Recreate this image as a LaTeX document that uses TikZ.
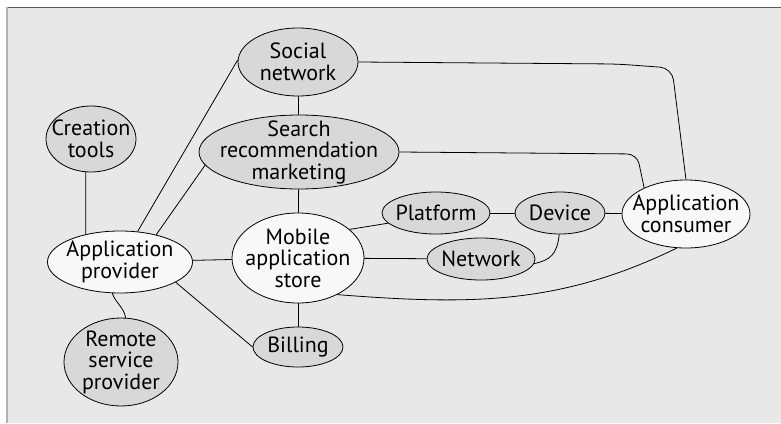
\documentclass[tikz,border=0pt]{standalone}
\usepackage{fontspec}
\setmainfont{PT Sans}
\usetikzlibrary{shapes.geometric}
\definecolor{panel}{HTML}{E8E8E8}
\definecolor{shade}{HTML}{D8D8D8}
\definecolor{light}{HTML}{F8F8F8}
\begin{document}
\begin{tikzpicture}[x=1pt,y=-1pt,
  every node/.style={font=\fontsize{22}{21.5}\selectfont, align=center, inner sep=0pt},
  % the ellipse keeps its given size; its text sits in a centred label
  bubble/.style={ellipse, draw=black, line width=0.8pt, fill=shade, label={center:#1}},
  lightbubble/.style={bubble=#1, fill=light},
  link/.style={draw=black, line width=0.8pt}]
\useasboundingbox (0,0) rectangle (781,423);
% panel and its frame
\fill[panel] (6,7) rectangle (781,423);
\draw[gray!70!black, line width=1.2pt] (6,7.5) -- (781,7.5);
\draw[gray!60, line width=2pt] (7,7) -- (7,423);

% nodes
\node[bubble={Social\\network}, minimum width=120, minimum height=68] (soc) at (298,62) {};
\node[bubble={Creation\\tools}, minimum width=90, minimum height=66] (crea) at (91,139) {};
\node[bubble={Search\\recommendation\\marketing}, minimum width=200, minimum height=74] (srch) at (299,152) {};
\node[lightbubble={Application\\provider}, minimum width=145, minimum height=62] (prov) at (120,262) {};
\node[lightbubble={Mobile\\application\\store}, minimum width=132, minimum height=90] (store) at (298,258) {};
\node[bubble={Remote\\service\\provider}, minimum width=114, minimum height=88] (rem) at (121,362) {};
\node[bubble={Billing}, minimum width=90, minimum height=40] (bill) at (298,347) {};
\node[bubble={Platform}, minimum width=108, minimum height=42] (plat) at (436,213) {};
\node[bubble={Device}, minimum width=90, minimum height=42] (dev) at (560,213) {};
\node[bubble={Network}, minimum width=108, minimum height=42] (net) at (481,259) {};
\node[lightbubble={Application\\consumer}, minimum width=128, minimum height=68] (cons) at (686,214) {};

% connectors
\draw[link] (soc) -- (srch);
\draw[link] (srch) -- (store);
\draw[link] (store) -- (bill);
\draw[link] (crea.-99) -- (prov.141);
\draw[link] (prov.60) -- (soc.178);
\draw[link] (prov.37) -- (srch.188);
\draw[link] (prov) -- (store);
\draw[link] (prov.-20) -- (bill.west);
\draw[link] (prov.-104) to[out=-70,in=100] (rem.84);
\draw[link] (store.29) -- (plat.192);
\draw[link] (store) -- (net);
\draw[link] (plat) -- (dev);
\draw[link] (dev) -- (cons);
\draw[link] (dev.-92) .. controls (557,255) and (550,260) .. (net.-5);
\draw[link, rounded corners=12pt] (soc.east) -- (617,64) -- (672,68) -- (cons.north);
\draw[link, rounded corners=10pt] (srch.east) -- (637,154) -- (cons.148);
\draw[link] (store.-43) .. controls (470,305) and (560,305) .. (cons.-105);
\end{tikzpicture}
\end{document}
